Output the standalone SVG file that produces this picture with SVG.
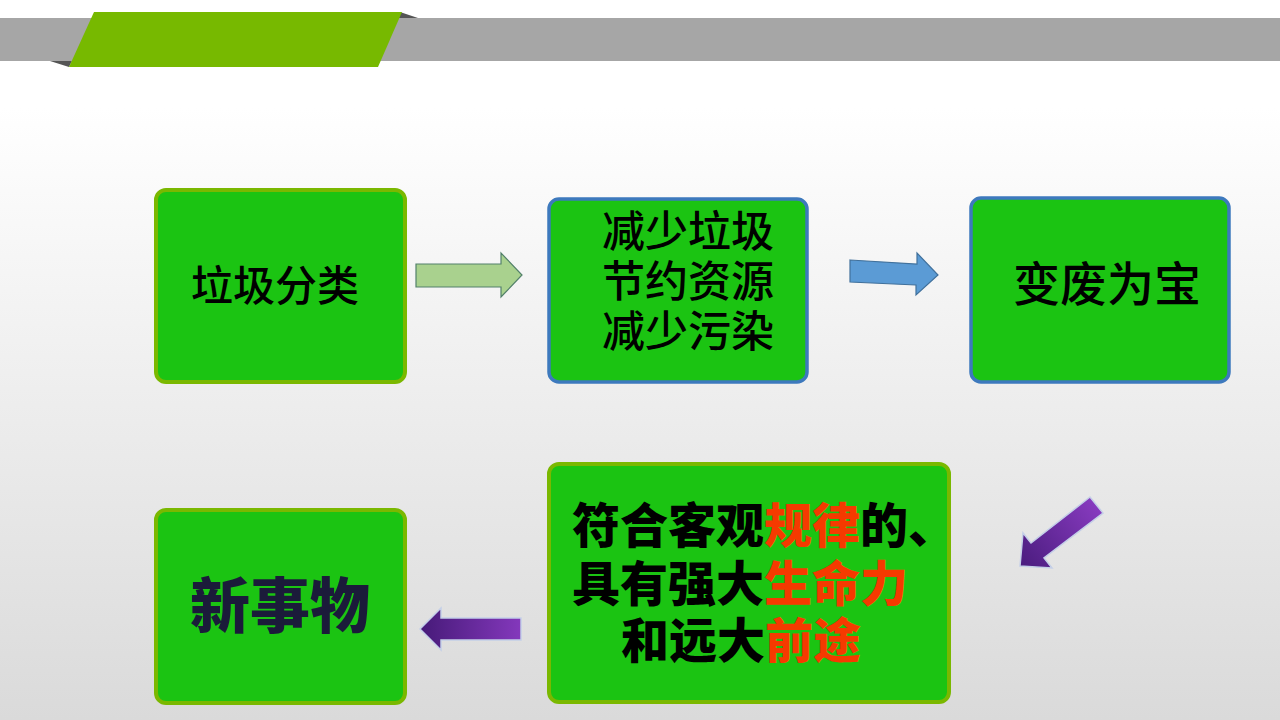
<svg xmlns="http://www.w3.org/2000/svg" width="1280" height="720" viewBox="0 0 1280 720">
  <defs>
    <linearGradient id="bg" x1="0" y1="0" x2="0" y2="1">
      <stop offset="0" stop-color="#ffffff"/>
      <stop offset="0.15" stop-color="#ffffff"/>
      <stop offset="1" stop-color="#dadada"/>
    </linearGradient>
    <linearGradient id="purpleH" x1="420" y1="0" x2="521" y2="0" gradientUnits="userSpaceOnUse">
      <stop offset="0" stop-color="#461a78"/>
      <stop offset="1" stop-color="#8438bc"/>
    </linearGradient>
    <linearGradient id="purpleD" x1="1020" y1="566" x2="1100" y2="502" gradientUnits="userSpaceOnUse">
      <stop offset="0" stop-color="#4a1c7e"/>
      <stop offset="1" stop-color="#8a3cc2"/>
    </linearGradient>
    <style>
      .box { fill: #1bc412; stroke-width: 4; }
      .gs { stroke: #7ab800; }
      .bs { stroke: #3d79bd; stroke-width: 3.5; }
      .reg { font-family: "Noto Sans CJK SC", "Noto Sans", sans-serif; font-weight: 500; fill: #000000; }
      .bold { font-family: "Noto Sans CJK SC", "Noto Sans", sans-serif; font-weight: 900; fill: #000000; }
      .red { fill: #f53a00; }
      .purple { stroke: #c4cfe8; stroke-width: 1.5; stroke-linejoin: miter; }
    </style>
  </defs>

  <rect x="0" y="0" width="1280" height="720" fill="url(#bg)"/>

  <g id="header">
    <rect x="0" y="18" width="1280" height="43" fill="#a6a6a6"/>
    <polygon points="50,61 72,61 69,67" fill="#555555"/>
    <polygon points="400,12 418,18 398,18" fill="#555555"/>
    <polygon points="94,12 402,12 378,67 69,67" fill="#77b900"/>
  </g>

  <g id="connectors">
    <polygon points="416,264 501,264 501,253 522,275 501,297 501,287 416,287" fill="#a9d18e" stroke="#52806a" stroke-width="1.2"/>
    <polygon points="850,260 917,264 917,253 938,275 916,295 916,285 850,282" fill="#5b9bd5" stroke="#41719c" stroke-width="1.2"/>
    <polygon class="purple" points="1090,497 1031,543 1023,533 1020,566 1052,568 1044,558 1103,513" fill="url(#purpleD)"/>
    <polygon class="purple" points="521,618 441,618 441,608 420,629 441,650 441,640 521,640" fill="url(#purpleH)"/>
  </g>

  <g id="node-sort">
    <rect class="box gs" x="156" y="190" width="249" height="192" rx="10"/>
    <text class="reg" x="275" y="301" font-size="42" text-anchor="middle">垃圾分类</text>
  </g>

  <g id="node-benefits">
    <rect class="box bs" x="549" y="199" width="258" height="183" rx="10"/>
    <text class="reg" x="602" y="247" font-size="43">减少垃圾</text>
    <text class="reg" x="602" y="297" font-size="43">节约资源</text>
    <text class="reg" x="602" y="347" font-size="43">减少污染</text>
  </g>

  <g id="node-treasure">
    <rect class="box bs" x="971" y="198" width="258" height="184" rx="10"/>
    <text class="reg" x="1107" y="301" font-size="47" text-anchor="middle">变废为宝</text>
  </g>

  <g id="node-laws">
    <rect class="box gs" x="549" y="464" width="400" height="238" rx="10"/>
    <text class="bold" x="572" y="543" font-size="48">符合客观<tspan class="red">规律</tspan>的、</text>
    <text class="bold" x="572" y="601" font-size="48">具有强大<tspan class="red">生命力</tspan></text>
    <text class="bold" x="621" y="658" font-size="48">和远大<tspan class="red">前途</tspan></text>
  </g>

  <g id="node-new">
    <rect class="box gs" x="156" y="510" width="249" height="193" rx="10"/>
    <text class="bold" x="280" y="628" font-size="60" text-anchor="middle" style="fill:#1b1b3a">新事物</text>
  </g>
</svg>
